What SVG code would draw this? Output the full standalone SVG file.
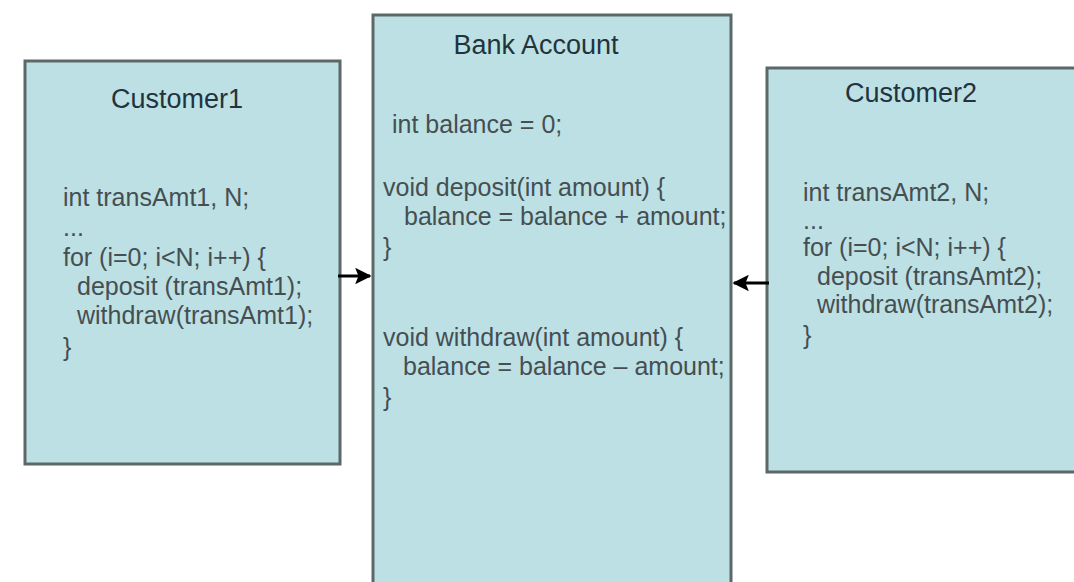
<svg xmlns="http://www.w3.org/2000/svg" width="1074" height="582" viewBox="0 0 1074 582">
  <style>
    .box { fill: #bde0e4; stroke: #5c6868; stroke-width: 3; }
    .title { font-family: "Liberation Sans", Arial, sans-serif; font-size: 27px; fill: #23333d; text-anchor: middle; }
    .code { font-family: "Liberation Sans", Arial, sans-serif; font-size: 25px; fill: #454f52; }
    .conn { stroke: #000; stroke-width: 3; fill: none; }
  </style>
  <defs>
    <marker id="arrow" viewBox="0 0 10 10" refX="9" refY="5" markerWidth="5.5" markerHeight="5.5" orient="auto" markerUnits="strokeWidth">
      <path d="M0,0 L10,5 L0,10 L2,5 Z" fill="#000"/>
    </marker>
  </defs>
  <rect x="0" y="0" width="1074" height="582" fill="#ffffff"/>

  <g id="customer1">
    <rect class="box" x="25" y="61" width="315" height="403"/>
    <text class="title" x="177" y="108">Customer1</text>
    <text class="code" x="63" y="206">int transAmt1, N;</text>
    <text class="code" x="63" y="236">...</text>
    <text class="code" x="63" y="266">for (i=0; i&lt;N; i++)  {</text>
    <text class="code" x="77" y="295">deposit (transAmt1);</text>
    <text class="code" x="77" y="324">withdraw(transAmt1);</text>
    <text class="code" x="63" y="356">}</text>
  </g>

  <g id="bank-account">
    <rect class="box" x="373" y="15" width="358" height="580"/>
    <text class="title" x="536" y="54">Bank Account</text>
    <text class="code" x="392" y="133">int balance = 0;</text>
    <text class="code" x="383" y="196">void deposit(int amount)  {</text>
    <text class="code" x="404" y="225">balance = balance + amount;</text>
    <text class="code" x="383" y="256">}</text>
    <text class="code" x="383" y="346">void withdraw(int amount)  {</text>
    <text class="code" x="403" y="375">balance = balance – amount;</text>
    <text class="code" x="383" y="406">}</text>
  </g>

  <g id="customer2">
    <rect class="box" x="767" y="68" width="320" height="404"/>
    <text class="title" x="911" y="102">Customer2</text>
    <text class="code" x="803" y="201">int transAmt2, N;</text>
    <text class="code" x="803" y="229">...</text>
    <text class="code" x="803" y="256">for (i=0; i&lt;N; i++)  {</text>
    <text class="code" x="817" y="285">deposit (transAmt2);</text>
    <text class="code" x="817" y="313">withdraw(transAmt2);</text>
    <text class="code" x="803" y="344">}</text>
  </g>

  <g id="connectors">
    <line class="conn" x1="338" y1="276" x2="370" y2="276" marker-end="url(#arrow)"/>
    <line class="conn" x1="769" y1="283" x2="734" y2="283" marker-end="url(#arrow)"/>
  </g>
</svg>
